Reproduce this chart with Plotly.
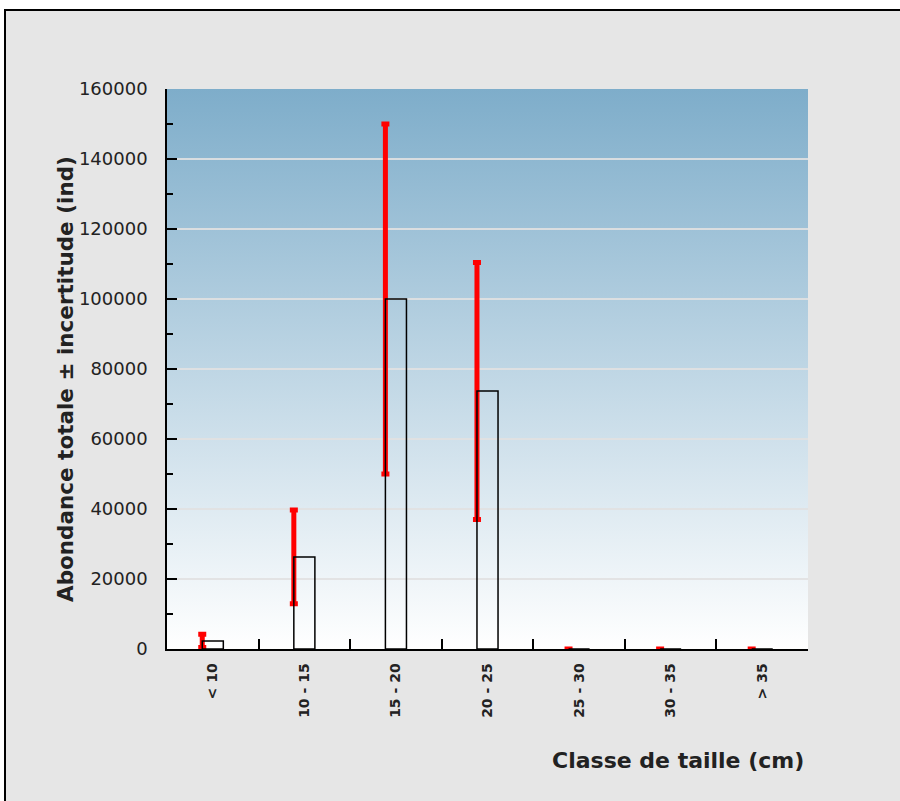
import base64
import plotly.graph_objects as go

categories = ["< 10", "10 - 15", "15 - 20", "20 - 25", "25 - 30", "30 - 35", "> 35"]
abondance = [2300, 26300, 100000, 73700, 0, 0, 0]
incertitude = [1900, 13400, 50000, 36700, 0, 0, 0]
y_ticks = [0, 20000, 40000, 60000, 80000, 100000, 120000, 140000, 160000]

W, H = 900, 801
L, R, T, B = 167, 92, 89, 152
PW, PH = W - L - R, H - T - B

def px(x):
    return (x - L) / PW

def py(y):
    return (H - B - y) / PH

BAR_W = 0.23

svg = ('<svg xmlns="http://www.w3.org/2000/svg" width="100" height="100" preserveAspectRatio="none">'
       '<defs><linearGradient id="g" x1="0" y1="0" x2="0" y2="1">'
       '<stop offset="0" stop-color="#7eadca"/><stop offset="1" stop-color="#ffffff"/>'
       '</linearGradient></defs><rect width="100" height="100" fill="url(#g)"/></svg>')
src = "data:image/svg+xml;base64," + base64.b64encode(svg.encode()).decode()

fig = go.Figure()
fig.add_trace(go.Bar(
    x=categories, y=abondance, width=0.002, offset=-BAR_W / 2 - 0.001,
    marker=dict(color="rgba(0,0,0,0)", line=dict(width=0)),
    error_y=dict(type="data", array=incertitude, visible=True, color="#ff0000", thickness=5, width=4),
    hoverinfo="skip", showlegend=False,
))
fig.add_trace(go.Bar(
    x=categories, y=abondance, width=BAR_W,
    marker=dict(color="rgba(0,0,0,0)", line=dict(color="#000000", width=1.5)),
    showlegend=False,
))

fig.update_layout(
    width=W, height=H,
    margin=dict(l=L, r=R, t=T, b=B),
    paper_bgcolor="#e6e6e6",
    plot_bgcolor="rgba(0,0,0,0)",
    barmode="overlay",
    font=dict(family="DejaVu Sans", color="#222222"),
    images=[dict(source=src, xref="x domain", yref="y domain", x=0, y=1, sizex=1, sizey=1,
                 xanchor="left", yanchor="top", sizing="stretch", layer="below")],
    shapes=[
        dict(type="rect", xref="paper", yref="paper", x0=px(-5), x1=px(W + 5), y0=py(10), y1=py(-5),
             fillcolor="#ffffff", line=dict(width=0), layer="below"),
        dict(type="rect", xref="paper", yref="paper", x0=px(-5), x1=px(4), y0=py(H + 5), y1=py(-5),
             fillcolor="#ffffff", line=dict(width=0), layer="below"),
        dict(type="path", xref="paper", yref="paper",
             path=f"M {px(5)} {py(H + 5)} L {px(5)} {py(10)} L {px(W + 5)} {py(10)}",
             line=dict(color="#000000", width=2), layer="below"),
    ],
    xaxis=dict(
        type="category", range=[-0.5, 6.5], showline=True, linecolor="#000000", linewidth=1.5,
        ticks="inside", ticklen=10, tickwidth=1.5, tickcolor="#000000", tickson="boundaries",
        tickangle=-90, tickfont=dict(family="DejaVu Sans", size=14, color="#222222", weight="bold"),
        ticklabelstandoff=7, showgrid=False, zeroline=False,
    ),
    yaxis=dict(
        range=[0, 160000], tickvals=y_ticks, ticktext=[str(v) for v in y_ticks],
        showline=True, linecolor="#000000", linewidth=1.5,
        ticks="inside", ticklen=10, tickwidth=1.5, tickcolor="#000000",
        minor=dict(ticks="inside", ticklen=6, dtick=10000, tickwidth=1.5, tickcolor="#000000", showgrid=False),
        tickfont=dict(family="DejaVu Sans", size=18, color="#222222"),
        ticklabelstandoff=14,
        showgrid=True, gridcolor="rgba(225,225,225,0.9)", gridwidth=2, zeroline=False,
    ),
    annotations=[
        dict(text="Abondance totale ± incertitude (ind)", xref="paper", yref="paper",
             x=px(66), y=py(379), textangle=-90, showarrow=False, xanchor="center", yanchor="middle",
             font=dict(family="DejaVu Sans", size=21.5, color="#222222", weight="bold")),
        dict(text="Classe de taille (cm)", xref="paper", yref="paper",
             x=px(806), y=py(760), showarrow=False, xanchor="right", yanchor="middle",
             font=dict(family="DejaVu Sans", size=22, color="#222222", weight="bold")),
    ],
)

fig.write_html("out.html", config={"displayModeBar": False},
               post_script="document.body.style.margin='0px';document.body.style.overflow='hidden';")
